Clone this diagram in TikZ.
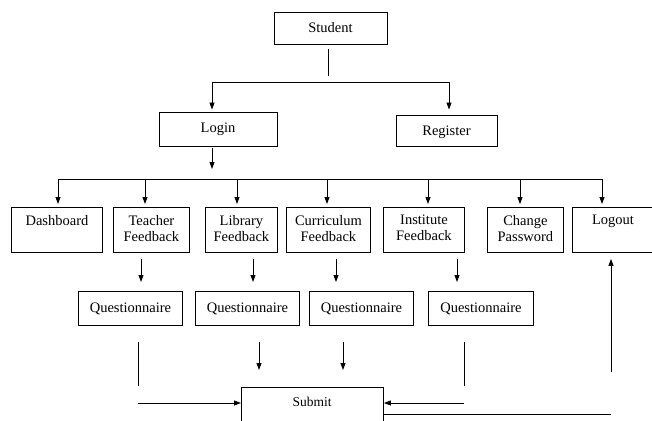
\documentclass[tikz,border=0pt]{standalone}
\usepackage{fontspec}
\setmainfont{Liberation Serif}
\usetikzlibrary{arrows.meta,calc}
\begin{document}
\begin{tikzpicture}[x=1pt,y=-1pt,
  box/.style={draw,line width=0.9pt,rectangle,inner sep=0pt},
  txt/.style={inner sep=0pt,align=center,font=\fontsize{14.5}{16}\selectfont},
  arr/.style={-{Triangle[length=7pt,width=5pt]}},
  ln/.style={line width=0.8pt}]
\useasboundingbox (0,0) rectangle (652,420);
\clip (0,0) rectangle (652,420);
% top
\node[box,minimum width=113pt,minimum height=32pt] (student) at (330.5,28) {};
\node[txt] (tstudent) at (student.center) {Student};
\node[box,minimum width=118pt,minimum height=34pt] (login) at (218,129) {};
\node[txt] (tlogin) at (login.center) {Login};
\node[box,minimum width=101pt,minimum height=31pt] (register) at (446.5,130.5) {};
\node[txt] (tregister) at ($(register.center)+(0,1.5)$) {Register};
% row boxes (top 207, bottom 252)
\foreach \n/\a/\b in {dash/11/102, teach/113/189, lib/205/277, curr/286/370, inst/383/464, chg/487/563, logout/572/662}{
  \node[box,minimum width={\b-\a},minimum height=45pt,anchor=north west] (\n) at (\a,207) {};
}
\node[txt,anchor=north] (tdash) at ($(dash.north)+(0,8)$) {Dashboard};
\node[txt,anchor=north] (tteach) at ($(teach.north)+(0,8)$) {Teacher\\Feedback};
\node[txt,anchor=north] (tlib) at ($(lib.north)+(0,8)$) {Library\\Feedback};
\node[txt,anchor=north] (tcurr) at ($(curr.north)+(0,8)$) {Curriculum\\Feedback};
\node[txt,anchor=north] (tinst) at ($(inst.north)+(0,8)$) {Institute\\Feedback};
\node[txt,anchor=north] (tchg) at ($(chg.north)+(0,8)$) {Change\\Password};
\node[txt,anchor=north] (tlogout) at ($(logout.north)+(-4.5,8)$) {Logout};
% questionnaires (top 291, bottom 325)
\foreach \n/\a/\b in {q1/78/182, q2/195/299, q3/309/413, q4/428/533}{
  \node[box,minimum width={\b-\a},minimum height=34pt,anchor=north west] (\n) at (\a,291) {};
  \node[txt] (t\n) at (\n.center) {Questionnaire};
}
% submit
\node[box,minimum width=142pt,minimum height=50pt,anchor=north west] (submit) at (241,387) {};
\node[txt,font=\fontsize{13.5}{16}\selectfont] (tsubmit) at (312,402) {Submit};
% connectors top
\coordinate (s0) at (328,49);
\coordinate (s1) at (328,76);
\draw[ln] (s0) -- (s1);
\coordinate (j1) at (212,82);
\coordinate (j2) at (449,82);
\draw[ln] (j1) -- (j2);
\draw[ln,arr] (j1) -- ($(j1 |- login.north)+(0,-2)$);
\draw[ln,arr] (j2) -- ($(j2 |- register.north)+(0,-5)$);
\coordinate (l0) at (212,148);
\draw[ln,arr] (l0) -- (212,169);
\coordinate (h1) at (58,179);
\coordinate (h2) at (602,179);
\draw[ln] (h1) -- (h2);
\foreach \x in {58,145,237,327,428,520,602}{
  \draw[ln,arr] (\x,179) -- (\x,204);
}
% feedback -> questionnaire
\foreach \x in {141,253,336,457}{
  \draw[ln,arr] (\x,259) -- (\x,282);
}
% questionnaire -> submit
\coordinate (a1) at (138,342);
\coordinate (a2) at (138,386);
\draw[ln] (a1) -- (a2);
\coordinate (a3) at (138,403);
\draw[ln,arr] (a3) -- (a3 -| submit.west);
\draw[ln,arr] (259,342) -- (259,370);
\draw[ln,arr] (343,342) -- (343,370);
\coordinate (b1) at (464,342);
\coordinate (b2) at (464,386);
\draw[ln] (b1) -- (b2);
\coordinate (b3) at (464,403);
\draw[ln,arr] (b3) -- (b3 -| submit.east);
% submit -> logout
\coordinate (c1) at (611,414);
\draw[ln] (submit.east |- c1) -- (c1);
\coordinate (c2) at (611,372);
\draw[ln,arr] (c2) -- ($(c2 |- logout.south)+(0,6)$);
\end{tikzpicture}
\end{document}
